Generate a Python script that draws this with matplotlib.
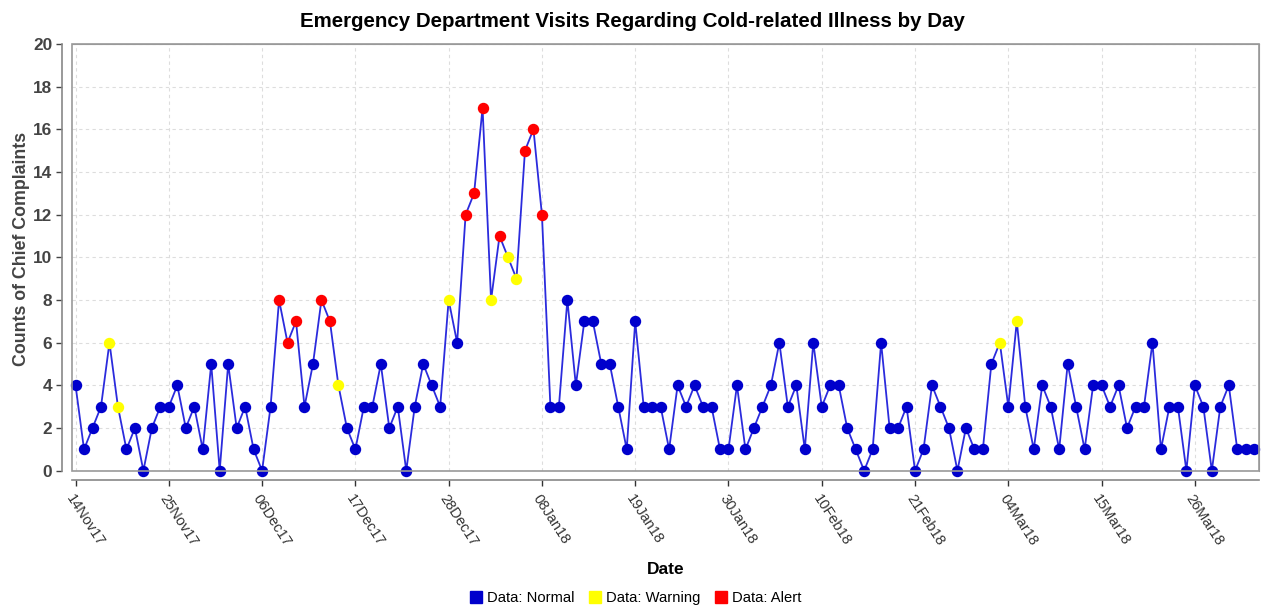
import matplotlib
matplotlib.use("Agg")
import matplotlib.pyplot as plt
import matplotlib.dates as mdates
import matplotlib.ticker as mticker
from matplotlib.lines import Line2D
from matplotlib.patches import Rectangle
import numpy as np
import pandas as pd

start_date = "2017-11-14"
counts = [4,1,2,3,6,3,1,2,0,2,3,3,4,2,3,1,5,0,5,2,3,1,
          0,3,8,6,7,3,5,8,7,4,2,1,3,3,5,2,3,0,3,5,4,3,
          8,6,12,13,17,8,11,10,9,15,16,12,3,3,8,4,7,7,5,5,3,
          1,7,3,3,3,1,4,3,4,3,3,1,1,4,1,2,3,4,6,3,4,
          1,6,3,4,4,2,1,0,1,6,2,2,3,0,1,4,3,2,0,2,1,
          1,5,6,3,7,3,1,4,3,1,5,3,1,4,4,3,4,2,3,3,6,
          1,3,3,0,4,3,0,3,4,1,1,1]
warning_days = [4,5,31,44,49,51,52,109,111]
alert_days = [24,25,26,29,30,46,47,48,50,53,54,55]
y_ticks = list(range(0, 21, 2))
title = "Emergency Department Visits Regarding Cold-related Illness by Day"
legend_labels = ["Data: Normal", "Data: Warning", "Data: Alert"]

plt.rcParams['font.family'] = ['Liberation Sans', 'DejaVu Sans']

dates = pd.date_range(start_date, periods=len(counts), freq="D")
counts = np.array(counts)
status = np.array(["normal"] * len(counts), dtype=object)
status[warning_days] = "warning"
status[alert_days] = "alert"

blue = "#0000CC"
line_blue = "#2B2BDD"
yellow = "#FFFF00"
red = "#FF0000"

fig = plt.figure(figsize=(12.65, 6.09), dpi=100)
ax = fig.add_axes([0.0567, 0.2271, 0.9386, 0.7007])

ax.plot(dates, counts, color=line_blue, lw=1.3, zorder=3)
for st, col in [("normal", blue), ("warning", yellow), ("alert", red)]:
    m = status == st
    ax.plot(dates[m], counts[m], linestyle="none", marker="o", ms=7.2,
            mfc=col, mec=col, zorder=4, clip_on=False)

ax.set_ylim(0, 20)
ax.set_yticks(y_ticks)
x0 = mdates.date2num(dates[0])
ax.set_xlim(x0 - 0.45, x0 + 139.57)
ax.xaxis.set_major_locator(mticker.FixedLocator([x0 + 11 * k for k in range(13)]))
ax.xaxis.set_major_formatter(mdates.DateFormatter('%d%b%y'))

ax.grid(True, color="#DDDDDD", linestyle=(0, (3, 3)), lw=0.8, zorder=0)

for s in ["top", "right"]:
    ax.spines[s].set_color("#999999")
for s in ["left", "bottom"]:
    ax.spines[s].set_position(("outward", 7))
    ax.spines[s].set_color("#888888")
    ax.spines[s].set_linewidth(1.2)
ax.add_patch(Rectangle((0, 0), 1, 1, transform=ax.transAxes, fill=False,
                       edgecolor="#999999", lw=1.2, clip_on=False, zorder=5))

ax.tick_params(axis="y", labelsize=12.4, colors="#444444", length=4, width=1, pad=3)
for lab in ax.get_yticklabels():
    lab.set_fontweight("bold")
ax.tick_params(axis="x", labelsize=10.5, colors="#333333", length=4, width=1, pad=4)
for lab in ax.get_xticklabels():
    lab.set_rotation(-57)
    lab.set_ha("left")
    lab.set_va("top")
    lab.set_rotation_mode("anchor")

ax.set_ylabel("Counts of Chief Complaints", fontsize=12.8, fontweight="bold",
              color="#444444")
ax.yaxis.set_label_coords(-0.0354, 0.52)
ax.set_xlabel("Date", fontsize=12.5, fontweight="bold", color="black")
ax.xaxis.set_label_coords(0.5, -0.215)

fig.suptitle(title, fontsize=14.8, fontweight="bold", y=0.981)

handles = [Line2D([], [], marker="s", linestyle="none", ms=8.5, mfc=c, mec=c)
           for c in (blue, yellow, red)]
fig.legend(handles, legend_labels, loc="center", bbox_to_anchor=(0.502, 0.018),
           ncol=3, frameon=False, fontsize=10.6, handletextpad=0.25,
           columnspacing=0.9, handlelength=1.0)

fig.savefig("out.png", dpi=100)
